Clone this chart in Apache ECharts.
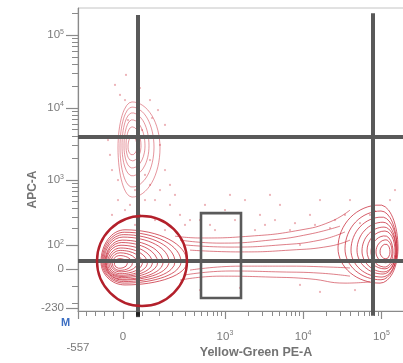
<!DOCTYPE html>
<html>
<head>
<meta charset="utf-8">
<script src="https://cdn.jsdelivr.net/npm/echarts@6/dist/echarts.min.js"></script>
<style>
html,body{margin:0;padding:0;background:#fff;overflow:hidden;width:403px;height:363px;}
#c{width:414px;height:363px;}
</style>
</head>
<body>
<div id="c"></div>
<script>
// ---- axis definitions (values are real fluorescence units) ----
const xMajorValues = [-557, 0, 1000, 10000, 100000];
const xMajorLabels = ['-557', '0', '10^3', '10^4', '10^5'];
const xMinorValues = [-450, -340, -230, -120, 60, 130, 200, 300, 400, 500, 600, 700, 800, 900,
  2000, 3000, 4000, 5000, 6000, 7000, 8000, 9000,
  20000, 30000, 40000, 50000, 60000, 70000, 80000, 90000, 200000];
const yMajorValues = [-230, 0, 100, 1000, 10000, 100000];
const yMajorLabels = ['-230', '0', '10^2', '10^3', '10^4', '10^5'];
const yMinorValues = [-200, -100, 200, 300, 400, 500, 600, 700, 800, 900,
  2000, 3000, 4000, 5000, 6000, 7000, 8000, 9000,
  20000, 30000, 40000, 50000, 60000, 70000, 80000, 90000, 200000];

// biexponential-like display transforms: real value -> display channel
function xCh(v){ return v >= 0 ? 135 + 102 * Math.asinh(v / 100) : 135 + v * 135 / 557; }
function yCh(v){ return v >= 0 ? 138.6 + 104 * Math.asinh(v / 120) : 138.6 + v * 0.5596; }

// ---- event data in display channels ----
// contour loops: [centerX, centerY, extentLeft, extentRight, extentTop, extentBottom]
const popA = [
  [141,162,72,186,106,76],[139,162,67,170,98,70],[137,162,62,154,90,65],[135,162,57,138,82,60],
  [133,160,52,122,74,55],[131,160,48,108,66,50],[129,159,44,94,58,45],[128,158,39,80,50,40],
  [127,158,34,66,42,35],[126,158,28,52,34,29],[125,157,22,38,26,23],[124,156,15,24,17,15]
];
const popB = [
  [162,538,42,84,152,162],[162,541,36,66,132,132],[162,545,30,51,109,99],
  [162,545,24,39,86,73],[162,545,18,27,63,50],[162,541,12,15,36,26]
];
const popC = [
  [906,208,126,54,142,116],[909,205,108,48,125,102],[912,201,93,45,109,89],
  [915,201,78,39,92,79],[918,198,66,36,79,69],[921,198,54,30,66,59],
  [921,195,42,24,53,50],[924,195,30,18,40,36],[924,195,18,12,26,23]
];
const bridgeUpper = [
  [[291,247],[366,241],[516,247],[666,267],[756,294],[816,333]],
  [[306,234],[426,224],[576,234],[696,254],[786,280]],
  [[321,218],[456,211],[606,218],[726,234],[801,261]],
  [[336,201],[486,195],[636,201],[756,214],[816,234]]
];
const bridgeLower = [
  [[306,102],[426,115],[576,112],[696,106],[801,92],[876,96]],
  [[321,119],[456,132],[606,129],[726,125],[816,115]],
  [[336,135],[486,148],[636,148],[756,145],[816,142]]
];
const dots = [
  [111,746],[126,713],[216,696],[240,663],[261,614],[102,465],[216,416],[246,399],[201,366],
  [141,333],[276,350],[102,317],[186,317],[231,300],[171,284],[261,267],[306,317],[366,300],
  [411,267],[546,317],[636,267],[501,366],[696,317],[756,274],[876,317],[936,366],[951,399],
  [666,218],[561,284],[816,366],[456,383],[381,350],[321,284],[606,350],[726,366],[801,317],
  [144,779],[150,630],[192,597],[90,564],[216,498],[120,432],[171,399],[246,548],[366,69],
  [486,76],[666,86],[726,63],[831,69],[291,383],[441,333],[576,383],[141,696],[186,736],
  [222,637],[96,515],[261,465],[201,449],[156,350],[120,366],[336,300],[396,284],[471,300],
  [531,267],[591,300],[651,290],[711,284],[771,300],[846,290],[891,330],[231,366],[276,416]
];
// gates (display channels)
const gateLeftX = 180, gateRightX = 885, gateUpperY = 574, gateLowerY = 165;
const gateRect = [369, 489, 43, 323];      // x1, x2, y1, y2
const gateCircle = [192, 165, 135];        // cx, cy, radius (x channels)

// ---- build ----
function loop(p){
  const [cx,cy,rl,rr,rt,rb] = p; const pts = [];
  for (let i = 0; i <= 64; i++){
    const t = i / 64 * 2 * Math.PI, c = Math.cos(t), s = Math.sin(t);
    pts.push([cx + (c >= 0 ? rr : rl) * c, cy + (s >= 0 ? rt : rb) * s]);
  }
  return pts;
}
const series = [];
function addLine(data, color, width, extra){
  series.push(Object.assign({type:'line', data:data, symbol:'none', silent:true, animation:false,
    lineStyle:{color:color, width:width}, z:2}, extra||{}));
}
popA.forEach(p => addLine(loop(p), 'rgba(196,28,45,0.8)', 0.9));
popB.forEach(p => addLine(loop(p), 'rgba(205,50,65,0.65)', 0.8));
popC.forEach(p => addLine(loop(p), 'rgba(196,28,45,0.8)', 0.9));
bridgeUpper.forEach(p => addLine(p, 'rgba(200,40,55,0.75)', 0.8, {smooth:true}));
bridgeLower.forEach(p => addLine(p, 'rgba(200,40,55,0.75)', 0.8, {smooth:true}));
series.push({type:'scatter', data:dots, symbolSize:2.2, silent:true, animation:false, z:1,
  itemStyle:{color:'rgba(215,90,100,0.6)'}});

const gateStyle = {color:'#595959', width:4};
addLine([[gateLeftX, 977],[gateLeftX, -16]], gateStyle.color, gateStyle.width, {clip:false, z:5});
addLine([[gateRightX, 983],[gateRightX, -16]], gateStyle.color, gateStyle.width, {clip:false, z:5});
addLine([[0, gateUpperY],[1008, gateUpperY]], gateStyle.color, gateStyle.width, {z:5});
addLine([[0, gateLowerY],[1008, gateLowerY]], gateStyle.color, gateStyle.width, {z:5});
series.push({type:'scatter', data:[[gateLeftX,-12]], symbol:'rect', symbolSize:[4,5], clip:false,
  silent:true, animation:false, z:6, itemStyle:{color:'#111'}});
series.push({type:'custom', silent:true, animation:false, z:6, data:[gateRect],
  renderItem:function(params, api){
    const a = api.coord([api.value(0), api.value(3)]), b = api.coord([api.value(1), api.value(2)]);
    return {type:'rect', shape:{x:a[0], y:a[1], width:b[0]-a[0], height:b[1]-a[1]},
      style:{fill:'none', stroke:'#5a5a5a', lineWidth:2.6}};
  }});
series.push({type:'custom', silent:true, animation:false, z:6, data:[gateCircle],
  renderItem:function(params, api){
    const c = api.coord([api.value(0), api.value(1)]);
    const r = api.size([api.value(2), 0])[0];
    return {type:'circle', shape:{cx:c[0], cy:c[1], r:r},
      style:{fill:'none', stroke:'#b3202b', lineWidth:2.4}};
  }});

function fmtPow(s){
  if (s.indexOf('^') > 0){ const parts = s.split('^'); return '{b|' + parts[0] + '}{s|' + parts[1] + '}'; }
  return '{b|' + s + '}';
}
const xMajorCh = xMajorValues.map(xCh), yMajorCh = yMajorValues.map(yCh);
function lookup(chs, labels, v){
  for (let i = 0; i < chs.length; i++) if (Math.abs(chs[i] - v) < 0.01) return labels[i];
  return '';
}
const labelRich = {
  b:{fontSize:11.5, color:'#7a7a7a', fontFamily:'Liberation Sans', lineHeight:14},
  s:{fontSize:7, color:'#7a7a7a', fontFamily:'Liberation Sans', verticalAlign:'top', lineHeight:14},
  low:{fontSize:11.5, color:'#7a7a7a', fontFamily:'Liberation Sans', padding:[12,0,0,0]}
};
const axisGray = '#8a8a8a';

const option = {
  animation:false,
  grid:{left:78, right:0, top:8, bottom:52, outerBoundsMode:'none', containLabel:false,
    show:true, borderColor:'#c4c4c4', borderWidth:1},
  xAxis:[
    {type:'value', min:0, max:1008, position:'bottom',
     name:'Yellow-Green PE-A', nameLocation:'middle', nameGap:35, nameMoveOverlap:false,
     nameTextStyle:{fontFamily:'Liberation Sans', fontWeight:'bold', fontSize:12.5, color:'#737373', padding:[0,0,0,20]},
     axisLine:{show:true, lineStyle:{color:axisGray, width:1.2}},
     axisTick:{show:true, customValues:xMajorCh, length:8, lineStyle:{color:axisGray, width:1.2}},
     axisLabel:{show:true, customValues:xMajorCh, margin:19, rich:labelRich,
       formatter:function(v){ const s = lookup(xMajorCh, xMajorLabels, v); return s === '-557' ? '{low|-557}' : fmtPow(s); }},
     splitLine:{show:false}},
    {type:'value', min:0, max:1008, position:'bottom',
     axisLine:{show:false},
     axisTick:{show:true, customValues:xMinorValues.map(xCh), length:5, lineStyle:{color:axisGray, width:1}},
     axisLabel:{show:false}, splitLine:{show:false}}
  ],
  yAxis:[
    {type:'value', min:0, max:1000, position:'left',
     name:'APC-A', nameLocation:'middle', nameGap:39, nameMoveOverlap:false,
     nameTextStyle:{fontFamily:'Liberation Sans', fontWeight:'bold', fontSize:12, color:'#737373', padding:[0,60,0,0]},
     axisLine:{show:true, lineStyle:{color:axisGray, width:1.2}},
     axisTick:{show:true, customValues:yMajorCh, length:12, lineStyle:{color:axisGray, width:1.2}},
     axisLabel:{show:true, customValues:yMajorCh, margin:14, rich:labelRich,
       formatter:function(v){ return fmtPow(lookup(yMajorCh, yMajorLabels, v)); }},
     splitLine:{show:false}},
    {type:'value', min:0, max:1000, position:'left',
     axisLine:{show:false},
     axisTick:{show:true, customValues:yMinorValues.map(yCh), length:6, lineStyle:{color:axisGray, width:1}},
     axisLabel:{show:false}, splitLine:{show:false}}
  ],
  graphic:[{type:'text', left:61, top:317, style:{text:'M', fill:'#3b6ec2', font:'bold 11px "Liberation Sans"'}}],
  series:series
};
const chart = echarts.init(document.getElementById('c'), null, {renderer:'canvas'});
chart.setOption(option);
</script>
</body>
</html>
